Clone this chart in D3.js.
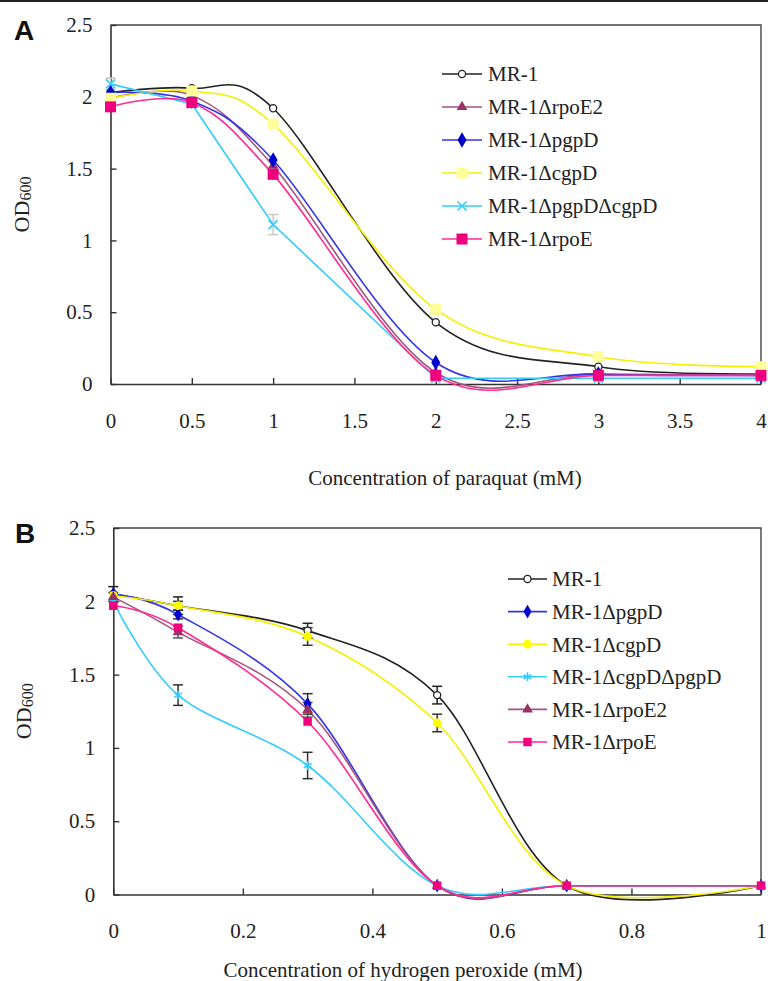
<!DOCTYPE html>
<html>
<head>
<meta charset="utf-8">
<script src="https://cdn.jsdelivr.net/npm/d3@7"></script>
<style>
  body { margin: 0; background: #fff; }
  svg { display: block; }
  .serif { font-family: 'Liberation Serif', 'Times New Roman', Times, 'DejaVu Serif', serif; }
</style>
</head>
<body>
<div id="chart"></div>
<script>
// Panel A: paraquat
const xA = [0, 0.5, 1, 2, 3, 4];
const namesA = ['MR-1', 'MR-1ΔrpoE2', 'MR-1ΔpgpD', 'MR-1ΔcgpD', 'MR-1ΔpgpDΔcgpD', 'MR-1ΔrpoE'];
const a_MR1 = [2.03, 2.06, 1.92, 0.43, 0.12, 0.07];
const a_rpoE2 = [1.99, 2.01, 1.52, 0.08, 0.07, 0.06];
const a_pgpD = [2.03, 1.97, 1.56, 0.15, 0.07, 0.06];
const a_cgpD = [1.99, 2.04, 1.81, 0.52, 0.19, 0.12];
const a_pgpDcgpD = [2.09, 1.95, 1.11, 0.04, 0.04, 0.04];
const a_rpoE = [1.93, 1.96, 1.46, 0.06, 0.06, 0.06];
const errA_pgpDcgpD = [0.04, 0.02, 0.07, 0.02, 0.02, 0.02];
const xTicksA = [0, 0.5, 1, 1.5, 2, 2.5, 3, 3.5, 4];

// Panel B: hydrogen peroxide
const xB = [0, 0.1, 0.3, 0.5, 0.7, 1];
const namesB = ['MR-1', 'MR-1ΔpgpD', 'MR-1ΔcgpD', 'MR-1ΔcgpDΔpgpD', 'MR-1ΔrpoE2', 'MR-1ΔrpoE'];
const b_MR1 = [2.05, 1.97, 1.80, 1.36, 0.06, 0.06];
const b_pgpD = [2.05, 1.91, 1.30, 0.06, 0.06, 0.06];
const b_cgpD = [2.04, 1.97, 1.76, 1.17, 0.06, 0.06];
const b_cgpDpgpD = [2.00, 1.36, 0.88, 0.06, 0.06, 0.06];
const b_rpoE2 = [2.03, 1.79, 1.26, 0.06, 0.06, 0.06];
const b_rpoE = [1.97, 1.82, 1.18, 0.06, 0.06, 0.06];
const errB_MR1 = [0.05, 0.06, 0.05, 0.06, 0, 0];
const errB_pgpD = [0, 0.03, 0.07, 0, 0, 0];
const errB_cgpD = [0, 0.03, 0.06, 0.06, 0, 0];
const errB_cgpDpgpD = [0, 0.07, 0.09, 0, 0, 0];
const errB_rpoE2 = [0.03, 0.04, 0.05, 0, 0, 0];
const xTicksB = [0, 0.2, 0.4, 0.6, 0.8, 1];

const yTicks = [0, 0.5, 1, 1.5, 2, 2.5];

const W = 768, H = 981;

const svg = d3.select('#chart')
  .append('svg')
  .attr('width', W)
  .attr('height', H)
  .attr('viewBox', `0 0 ${W} ${H}`);

// thin rule across the very top
svg.append('rect')
  .attr('x', 0).attr('y', 0)
  .attr('width', W).attr('height', 2)
  .attr('fill', '#222');

// marker drawing helper
function drawMarker(g, kind, x, y) {
  const m = g.append('path').attr('transform', `translate(${x},${y})`);
  switch (kind.type) {
    case 'openCircle':
      m.attr('d', d3.symbol(d3.symbolCircle, kind.size)())
        .attr('fill', '#fff').attr('stroke', '#222').attr('stroke-width', 1.3);
      break;
    case 'times':
    case 'asterisk':
      m.attr('d', d3.symbol(kind.type === 'times' ? d3.symbolTimes : d3.symbolAsterisk, kind.size)())
        .attr('fill', 'none').attr('stroke', kind.color).attr('stroke-width', 1.6);
      break;
    default:
      m.attr('d', d3.symbol(kind.shape, kind.size)())
        .attr('fill', kind.color);
  }
}

function drawPanel(p) {
  const x = d3.scaleLinear().domain(p.xDomain).range([p.left, p.right]);
  const y = d3.scaleLinear().domain([0, 2.5]).range([p.bottom, p.top]);
  const g = svg.append('g');

  // frame (top and right)
  g.append('path')
    .attr('d', `M${p.left},${p.top}H${p.right}V${p.bottom}`)
    .attr('fill', 'none')
    .attr('stroke', '#444')
    .attr('stroke-width', 1.4);

  // axes
  const yAxis = g.append('g')
    .attr('transform', `translate(${p.left},0)`)
    .call(d3.axisLeft(y).tickValues(yTicks).tickFormat(d => String(d))
      .tickSizeInner(-6).tickSizeOuter(0).tickPadding(p.yPad));
  const xAxis = g.append('g')
    .attr('transform', `translate(0,${p.bottom})`)
    .call(d3.axisBottom(x).tickValues(p.xTicks).tickFormat(d => String(d))
      .tickSizeInner(-6).tickSizeOuter(0).tickPadding(29));
  [yAxis, xAxis].forEach(a => {
    a.attr('font-family', null);
    a.select('.domain').attr('stroke', '#333').attr('stroke-width', 1.6);
    a.selectAll('.tick line').attr('stroke', '#333').attr('stroke-width', 1.4);
    a.selectAll('.tick text')
      .attr('class', 'serif')
      .attr('font-size', 21)
      .attr('fill', '#222');
  });

  // y label OD600
  const yl = g.append('text')
    .attr('class', 'serif')
    .attr('transform', `translate(${p.yLabelX},${(p.top + p.bottom) / 2}) rotate(-90)`)
    .attr('text-anchor', 'middle')
    .attr('fill', '#222');
  yl.append('tspan').attr('font-size', 22).text('OD');
  yl.append('tspan').attr('font-size', 16).attr('dy', 2).text('600');

  // x title
  g.append('text')
    .attr('class', 'serif')
    .attr('x', p.titleX)
    .attr('y', p.titleY)
    .attr('text-anchor', 'middle')
    .attr('font-size', 21)
    .attr('fill', '#222')
    .text(p.title);

  // panel letter
  g.append('text')
    .attr('x', p.letterX)
    .attr('y', p.letterY)
    .attr('font-family', 'Liberation Sans, Arial, sans-serif')
    .attr('font-weight', 'bold')
    .attr('font-size', 28)
    .attr('fill', '#111')
    .text(p.letter);

  // lines
  p.series.forEach(s => {
    const line = d3.line()
      .x((d, i) => x(p.xs[i]))
      .y(d => y(d))
      .curve(s.linear ? d3.curveLinear : d3.curveCatmullRom.alpha(0));
    g.append('path')
      .datum(s.values)
      .attr('d', line)
      .attr('fill', 'none')
      .attr('stroke', s.stroke)
      .attr('stroke-width', 1.6);
  });

  // error bars
  p.series.forEach(s => {
    if (!s.err) return;
    s.values.forEach((v, i) => {
      const e = s.err[i];
      if (!e) return;
      const cx = x(p.xs[i]);
      const eg = g.append('g')
        .attr('stroke', s.errColor)
        .attr('stroke-width', 1.5);
      eg.append('line').attr('x1', cx).attr('x2', cx).attr('y1', y(v - e)).attr('y2', y(v + e));
      eg.append('line').attr('x1', cx - 5).attr('x2', cx + 5).attr('y1', y(v - e)).attr('y2', y(v - e));
      eg.append('line').attr('x1', cx - 5).attr('x2', cx + 5).attr('y1', y(v + e)).attr('y2', y(v + e));
    });
  });

  // markers
  p.series.forEach(s => {
    s.values.forEach((v, i) => drawMarker(g, s.marker, x(p.xs[i]), y(v)));
  });

  // legend
  const lg = g.append('g');
  p.series.slice().sort((a, b) => a.legendIndex - b.legendIndex).forEach((s, i) => {
    const ly = p.legend.y + i * p.legend.step;
    lg.append('line')
      .attr('x1', p.legend.x1).attr('x2', p.legend.x2)
      .attr('y1', ly).attr('y2', ly)
      .attr('stroke', s.stroke)
      .attr('stroke-width', 1.6);
    drawMarker(lg, s.marker, (p.legend.x1 + p.legend.x2) / 2, ly);
    lg.append('text')
      .attr('class', 'serif')
      .attr('x', p.legend.tx)
      .attr('y', ly)
      .attr('dy', '0.35em')
      .attr('font-size', 21)
      .attr('fill', '#222')
      .text(s.name);
  });
}

const cBlack = '#222', cMauve = '#a3557e', cBlue = '#3535e8', cYellow = '#f7ee00',
  cCyan = '#33ccff', cPink = '#ff2a93';

drawPanel({
  letter: 'A', letterX: 14, letterY: 40,
  xDomain: [0, 4], left: 110.5, right: 761, top: 25, bottom: 384,
  xs: xA, xTicks: xTicksA, yPad: 18, yLabelX: 29,
  title: 'Concentration of paraquat (mM)', titleX: 445, titleY: 485,
  legend: { x1: 442, x2: 482, tx: 488, y: 74, step: 33 },
  series: [
    { name: namesA[0], legendIndex: 0, values: a_MR1, stroke: cBlack,
      marker: { type: 'openCircle', size: 40 } },
    { name: namesA[1], legendIndex: 1, values: a_rpoE2, stroke: cMauve,
      marker: { shape: d3.symbolTriangle, size: 50, color: '#993366' } },
    { name: namesA[2], legendIndex: 2, values: a_pgpD, stroke: cBlue,
      marker: { shape: d3.symbolDiamond, size: 70, color: '#0000cc' } },
    { name: namesA[3], legendIndex: 3, values: a_cgpD, stroke: cYellow,
      marker: { shape: d3.symbolSquare, size: 121, color: '#ffff99' } },
    { name: namesA[4], legendIndex: 4, values: a_pgpDcgpD, stroke: cCyan, linear: true,
      err: errA_pgpDcgpD, errColor: '#c8c8c8',
      marker: { type: 'times', size: 55, color: cCyan } },
    { name: namesA[5], legendIndex: 5, values: a_rpoE, stroke: cPink,
      marker: { shape: d3.symbolSquare, size: 121, color: '#f0007f' } }
  ]
});

drawPanel({
  letter: 'B', letterX: 15, letterY: 543,
  xDomain: [0, 1], left: 113.3, right: 761, top: 528, bottom: 894.5,
  xs: xB, xTicks: xTicksB, yPad: 18, yLabelX: 31,
  title: 'Concentration of hydrogen peroxide (mM)', titleX: 403, titleY: 977,
  legend: { x1: 508, x2: 547, tx: 552, y: 579, step: 32.6 },
  series: [
    { name: namesB[0], legendIndex: 0, values: b_MR1, stroke: cBlack,
      err: errB_MR1, errColor: '#222',
      marker: { type: 'openCircle', size: 40 } },
    { name: namesB[1], legendIndex: 1, values: b_pgpD, stroke: cBlue,
      err: errB_pgpD, errColor: '#333',
      marker: { shape: d3.symbolDiamond, size: 55, color: '#0000cc' } },
    { name: namesB[2], legendIndex: 2, values: b_cgpD, stroke: cYellow,
      err: errB_cgpD, errColor: '#333',
      marker: { shape: d3.symbolCircle, size: 60, color: '#ffff00' } },
    { name: namesB[3], legendIndex: 3, values: b_cgpDpgpD, stroke: cCyan,
      err: errB_cgpDpgpD, errColor: '#333',
      marker: { type: 'asterisk', size: 55, color: cCyan } },
    { name: namesB[4], legendIndex: 4, values: b_rpoE2, stroke: cMauve,
      err: errB_rpoE2, errColor: '#555',
      marker: { shape: d3.symbolTriangle, size: 50, color: '#993366' } },
    { name: namesB[5], legendIndex: 5, values: b_rpoE, stroke: cPink,
      marker: { shape: d3.symbolSquare, size: 72, color: '#f0007f' } }
  ]
});
</script>
</body>
</html>
